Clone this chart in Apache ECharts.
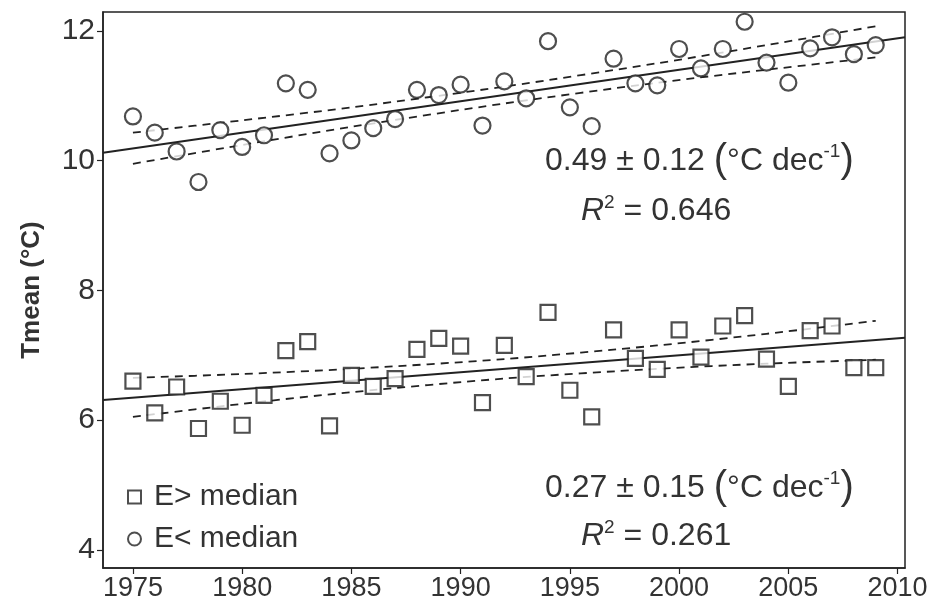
<!DOCTYPE html>
<html>
<head>
<meta charset="utf-8">
<title>Tmean trend</title>
<script src="https://cdn.jsdelivr.net/npm/echarts@6/dist/echarts.min.js"></script>
<style>
  html, body { margin: 0; padding: 0; background: #fff; }
  #main { width: 934px; height: 603px; }
</style>
</head>
<body>
<div id="main"></div>
<script>
// years of observation
var years = [1975, 1976, 1977, 1978, 1979, 1980, 1981, 1982, 1983, 1984,
             1985, 1986, 1987, 1988, 1989, 1990, 1991, 1992, 1993, 1994,
             1995, 1996, 1997, 1998, 1999, 2000, 2001, 2002, 2003, 2004,
             2005, 2006, 2007, 2008, 2009];

// E< median (circles)
var tLow = [10.68, 10.43, 10.14, 9.67, 10.47, 10.21, 10.39, 11.19, 11.09, 10.11,
            10.31, 10.50, 10.64, 11.09, 11.01, 11.17, 10.54, 11.22, 10.96, 11.84,
            10.82, 10.53, 11.57, 11.19, 11.16, 11.72, 11.42, 11.72, 12.14, 11.51,
            11.20, 11.73, 11.90, 11.64, 11.78];

// E> median (squares)
var tHigh = [6.60, 6.11, 6.51, 5.87, 6.29, 5.92, 6.38, 7.07, 7.21, 5.91,
             6.69, 6.52, 6.64, 7.09, 7.26, 7.14, 6.27, 7.15, 6.67, 7.66,
             6.46, 6.05, 7.39, 6.95, 6.78, 7.39, 6.97, 7.45, 7.61, 6.94,
             6.52, 7.38, 7.45, 6.81, 6.81];

// fitted lines (ends at the plot edges)
var fitX = [1973.63, 2010.34];
var fitLowE = [10.12, 11.90];
var fitHighE = [6.31, 7.27];

// confidence bands
var bandX = [1975, 1980, 1985, 1992, 1999, 2004, 2009];
var bandLowUp = [10.43, 10.62, 10.82, 11.14, 11.50, 11.78, 12.07];
var bandLowDn = [9.95, 10.24, 10.52, 10.88, 11.20, 11.40, 11.59];
var bandHighUp = [6.65, 6.71, 6.79, 6.94, 7.15, 7.33, 7.53];
var bandHighDn = [6.05, 6.25, 6.43, 6.64, 6.79, 6.87, 6.93];

var xTicks = [1975, 1980, 1985, 1990, 1995, 2000, 2005, 2010];
var yTicks = [4, 6, 8, 10, 12];

function pairs(xs, ys) {
    return xs.map(function (x, i) { return [x, ys[i]]; });
}

var ink = '#222';
var txt = '#333';
var font = 'Liberation Sans, Arial, sans-serif';

function fitLine(xs, ys) {
    return {
        type: 'line', data: pairs(xs, ys), showSymbol: false, silent: true,
        lineStyle: { color: ink, width: 2 }, z: 1
    };
}
function bandLine(xs, ys) {
    return {
        type: 'line', data: pairs(xs, ys), showSymbol: false, silent: true, smooth: 0.3,
        lineStyle: { color: ink, width: 1.8, type: [8, 6] }, z: 1
    };
}

var supStyle = { fontSize: 19, fill: txt, padding: [0, 0, 18, 0] };
var parStyle = { fontSize: 40, fill: txt, fontWeight: 'lighter' };

var myChart = echarts.init(document.getElementById('main'));
var option = {
    animation: false,
    backgroundColor: '#fff',
    grid: {
        left: 103, right: 29, top: 12, bottom: 35,
        show: true, borderColor: ink, borderWidth: 1.5,
        outerBoundsMode: 'none'
    },
    xAxis: {
        type: 'value', min: 1973.63, max: 2010.34,
        splitLine: { show: false },
        axisLine: { show: true, onZero: false, lineStyle: { color: ink, width: 1.5 } },
        axisTick: { show: true, length: 6, lineStyle: { color: ink, width: 1.2 }, customValues: xTicks },
        axisLabel: {
            customValues: xTicks, color: txt, fontSize: 27, margin: 7, fontFamily: font,
            formatter: function (v) { return String(v); }
        }
    },
    yAxis: {
        type: 'value', min: 3.72, max: 12.29,
        name: 'Tmean (°C)', nameLocation: 'middle', nameGap: 58,
        nameTextStyle: { color: txt, fontSize: 26, fontWeight: 'bold', fontFamily: font },
        splitLine: { show: false },
        axisLine: { show: true, onZero: false, lineStyle: { color: ink, width: 1.5 } },
        axisTick: { show: true, length: 6, lineStyle: { color: ink, width: 1.2 }, customValues: yTicks },
        axisLabel: { customValues: yTicks, color: txt, fontSize: 30, margin: 8, fontFamily: font }
    },
    legend: {
        orient: 'vertical', left: 122, top: 477, itemWidth: 13, itemHeight: 13, itemGap: 12,
        textStyle: { color: txt, fontSize: 30, fontFamily: font, padding: [0, 0, 0, 8] },
        data: [
            { name: 'E> median', icon: 'rect', itemStyle: { color: '#fff', borderColor: ink, borderWidth: 2 } },
            { name: 'E< median', icon: 'circle', itemStyle: { color: '#fff', borderColor: ink, borderWidth: 2 } }
        ]
    },
    graphic: [
        {
            type: 'text', left: 545, top: 141,
            style: {
                text: '0.49 ± 0.12 {p|(}°C dec{s|-1}{p|)}',
                fill: txt, fontSize: 32, fontFamily: font,
                rich: { p: parStyle, s: supStyle }
            }
        },
        {
            type: 'text', left: 581, top: 193,
            style: {
                text: '{i|R}{s|2} = 0.646',
                fill: txt, fontSize: 32, fontFamily: font,
                rich: { i: { fontStyle: 'italic', fontSize: 32, fill: txt }, s: supStyle }
            }
        },
        {
            type: 'text', left: 545, top: 468,
            style: {
                text: '0.27 ± 0.15 {p|(}°C dec{s|-1}{p|)}',
                fill: txt, fontSize: 32, fontFamily: font,
                rich: { p: parStyle, s: supStyle }
            }
        },
        {
            type: 'text', left: 581, top: 518,
            style: {
                text: '{i|R}{s|2} = 0.261',
                fill: txt, fontSize: 32, fontFamily: font,
                rich: { i: { fontStyle: 'italic', fontSize: 32, fill: txt }, s: supStyle }
            }
        }
    ],
    series: [
        fitLine(fitX, fitLowE),
        fitLine(fitX, fitHighE),
        bandLine(bandX, bandLowUp),
        bandLine(bandX, bandLowDn),
        bandLine(bandX, bandHighUp),
        bandLine(bandX, bandHighDn),
        {
            name: 'E> median', type: 'scatter', symbol: 'rect', symbolSize: 15,
            data: pairs(years, tHigh), z: 3,
            itemStyle: { color: '#fff', borderColor: ink, borderWidth: 2.2 }
        },
        {
            name: 'E< median', type: 'scatter', symbol: 'circle', symbolSize: 16,
            data: pairs(years, tLow), z: 3,
            itemStyle: { color: '#fff', borderColor: ink, borderWidth: 2.2 }
        }
    ]
};
myChart.setOption(option);
</script>
</body>
</html>
